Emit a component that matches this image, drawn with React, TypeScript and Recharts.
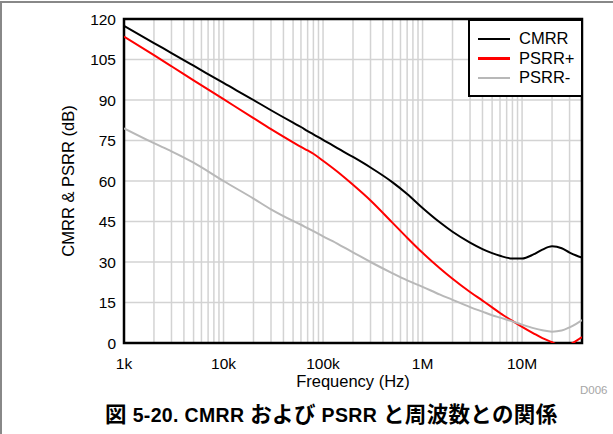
import { CartesianGrid, Legend, Line, LineChart, ReferenceArea, XAxis, YAxis } from "recharts";

// frequency (Hz) and the three rejection curves (dB)
const FREQ = [
  1e3, 2e3, 3e3, 5e3, 1e4, 2e4, 3e4, 5e4, 6e4, 7e4, 8e4, 1e5, 1.25e5, 1.5e5, 2e5, 3e5, 5e5, 7e5,
  1e6, 1.5e6, 2e6, 3e6, 4e6, 5e6, 6e6, 8e6, 1e7, 1.3e7, 1.6e7, 2e7, 2.5e7, 3e7, 3.5e7, 4e7,
];
const CMRR = [
  117.5, 111.1, 107.4, 102.7, 96.3, 90, 86.2, 81.6, 80, 78.5, 77.3, 75.2, 73.2, 71.5, 68.9, 65,
  59.5, 55.2, 50, 44.6, 41.2, 37.2, 34.8, 33.3, 32.3, 31.3, 31.3, 32.8, 34.6, 35.8, 35.1, 33.5,
  32.4, 31.6,
];
const PSRR_POS = [
  113.5, 106.6, 102.5, 97.3, 90.3, 83.3, 79.2, 74.3, 72.6, 71.3, 70.1, 67.5, 64.8, 62.5, 58.6,
  52.8, 44.5, 39, 33.4, 27.6, 23.8, 18.9, 15.7, 13.2, 11.1, 8.2, 6, 3.6, 1.8, 0.3, -1.3, -0.6,
  0.8, 2.2,
];
const PSRR_NEG = [
  79.5, 74, 71, 66.8, 60, 53.5, 49.5, 45.2, 43.8, 42.5, 41.4, 39.5, 37.7, 36.1, 33.6, 30, 25.8,
  23.2, 20.8, 17.9, 16, 13.3, 11.6, 10.3, 9.4, 8, 6.8, 5.5, 4.7, 4.2, 4.6, 5.8, 7.1, 8.5,
];

const X_TICKS = [
  1e3, 2e3, 3e3, 4e3, 5e3, 6e3, 7e3, 8e3, 9e3,
  1e4, 2e4, 3e4, 4e4, 5e4, 6e4, 7e4, 8e4, 9e4,
  1e5, 2e5, 3e5, 4e5, 5e5, 6e5, 7e5, 8e5, 9e5,
  1e6, 2e6, 3e6, 4e6, 5e6, 6e6, 7e6, 8e6, 9e6,
  1e7, 2e7, 3e7,
];
const X_LABELS: Record<number, string> = { 1e3: "1k", 1e4: "10k", 1e5: "100k", 1e6: "1M", 1e7: "10M" };
const Y_TICKS = [0, 15, 30, 45, 60, 75, 90, 105, 120];

const data = FREQ.map((f, i) => ({
  f,
  cmrr: CMRR[i],
  psrrPos: PSRR_POS[i],
  psrrNeg: PSRR_NEG[i],
}));

const FONT = '"Liberation Sans", Arial, "Noto Sans CJK JP", sans-serif';

function LegendBox(props: any) {
  const payload = props.payload || [];
  return (
    <div
      style={{
        width: 115,
        height: 78,
        boxSizing: "border-box",
        border: "2px solid #000",
        background: "#fff",
        padding: "8px 0 0 8px",
      }}
    >
      {payload.map((entry: any) => (
        <div key={entry.value} style={{ display: "flex", alignItems: "center", height: 19.5 }}>
          <span style={{ width: 32, height: 2.5, background: entry.color, marginRight: 9 }} />
          <span style={{ fontSize: 16.5, lineHeight: "19.5px", color: "#000" }}>{entry.value}</span>
        </div>
      ))}
    </div>
  );
}

const jp = { fontSize: 21.5 };

export default function App() {
  return (
    <div
      style={{
        position: "absolute",
        left: 0,
        top: 0,
        width: 613,
        height: 434,
        overflow: "hidden",
        background: "#fff",
        fontFamily: FONT,
      }}
    >
      <div
        style={{
          position: "absolute",
          left: 0,
          top: 1,
          width: 640,
          height: 460,
          borderTop: "2px solid #888",
          borderLeft: "2px solid #888",
        }}
      />
      <LineChart
        width={613}
        height={434}
        data={data}
        margin={{ top: 19, right: 31, bottom: 41, left: 0 }}
      >
        <CartesianGrid stroke="#d3d3d3" strokeWidth={1.5} />
        <XAxis
          dataKey="f"
          type="number"
          scale="log"
          domain={[1000, 40000000]}
          allowDataOverflow
          ticks={X_TICKS}
          interval={0}
          tickFormatter={(v: number) => X_LABELS[v] ?? ""}
          tickLine={false}
          axisLine={false}
          tickMargin={9}
          height={50}
          tick={{ fontSize: 15.5, fill: "#000" }}
          label={{ value: "Frequency (Hz)", position: "insideBottom", offset: 6, fontSize: 16.5, fill: "#000" }}
        />
        <YAxis
          type="number"
          domain={[0, 120]}
          allowDataOverflow
          ticks={Y_TICKS}
          interval={0}
          width={124}
          tickLine={false}
          axisLine={false}
          tick={{ fontSize: 15.5, fill: "#000" }}
          label={{ value: "CMRR & PSRR (dB)", angle: -90, position: "center", dx: 6, fontSize: 16.5, fill: "#000" }}
        />
        <Line
          type="monotone"
          dataKey="cmrr"
          name="CMRR"
          stroke="#000000"
          strokeWidth={2}
          dot={false}
          isAnimationActive={false}
        />
        <Line
          type="monotone"
          dataKey="psrrPos"
          name="PSRR+"
          stroke="#ff0000"
          strokeWidth={2}
          dot={false}
          isAnimationActive={false}
        />
        <Line
          type="monotone"
          dataKey="psrrNeg"
          name="PSRR-"
          stroke="#b8b8b8"
          strokeWidth={2}
          dot={false}
          isAnimationActive={false}
        />
        <ReferenceArea x1={1000} x2={40000000} y1={0} y2={120} fill="none" stroke="#000" strokeWidth={2.5} />
        <Legend
          layout="vertical"
          align="center"
          verticalAlign="middle"
          content={LegendBox}
          wrapperStyle={{ left: 468, top: 19, width: 115, height: 78 }}
        />
      </LineChart>
      <div
        style={{
          position: "absolute",
          left: 580,
          top: 384,
          fontSize: 11.5,
          color: "#a6a6a6",
          whiteSpace: "nowrap",
        }}
      >
        D006
      </div>
      <div
        style={{
          position: "absolute",
          left: 105,
          top: 405,
          fontSize: 19.5,
          lineHeight: "20px",
          fontWeight: "bold",
          letterSpacing: 0.35,
          color: "#000",
          whiteSpace: "nowrap",
        }}
      >
        <span style={jp}>図</span> 5-20. CMRR <span style={jp}>および</span> PSRR{" "}
        <span style={jp}>と周波数との関係</span>
      </div>
    </div>
  );
}
